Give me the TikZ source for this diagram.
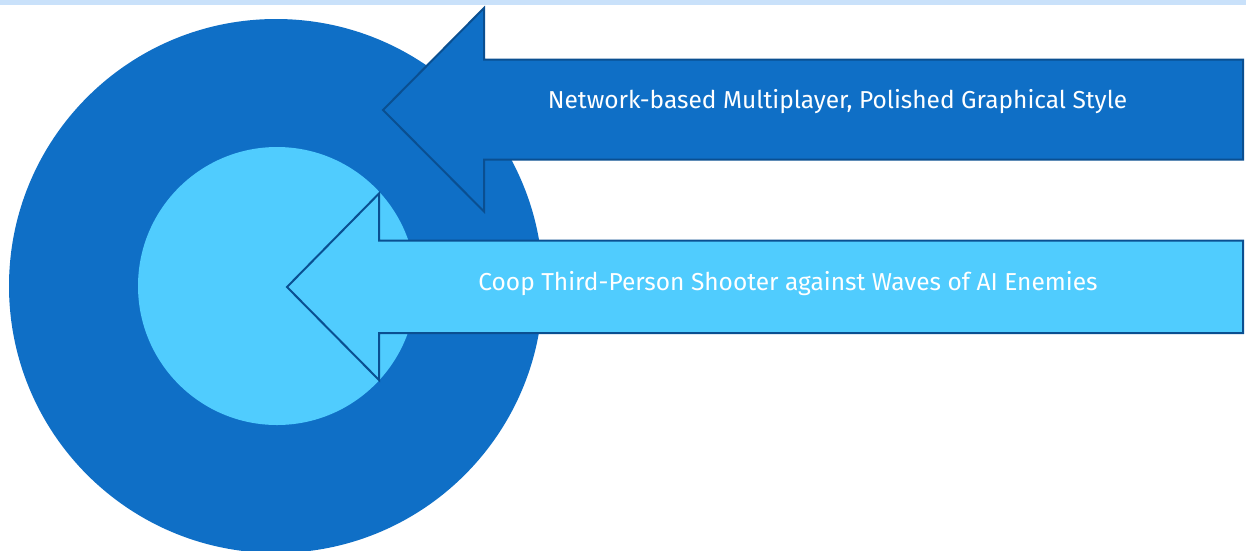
\documentclass[tikz,border=0pt]{standalone}
\usepackage{fontspec}
\setmainfont{Fira Sans}[Ligatures=NoCommon]
\definecolor{darkblue}{HTML}{0F6FC6}
\definecolor{lightblue}{HTML}{50CCFE}
\definecolor{edgeblue}{HTML}{0A4F91}
\definecolor{bandblue}{HTML}{C9E1FA}
\begin{document}
\begin{tikzpicture}[x=1pt,y=-1pt,
  arrowshape/.style={draw=edgeblue,line width=2pt,line join=miter},
  label/.style={text=white,font=\fontsize{24.5}{28}\selectfont,anchor=base,inner sep=0pt}]
\useasboundingbox (0,0) rectangle (1246,550);
\fill[white] (0,0) rectangle (1246,550);
\fill[bandblue] (0,0) rectangle (1246,4.5);
% circles
\fill[darkblue] (276,286) circle (267);
\fill[lightblue] (277,286) circle (139);
% outer arrow
\draw[arrowshape,fill=darkblue] (383,110) -- (484,8) -- (484,59.5) -- (1243,59.5) -- (1243,159.5) -- (484,159.5) -- (484,211.5) -- cycle;
% inner arrow
\draw[arrowshape,fill=lightblue] (287,287) -- (379,193.5) -- (379,240.5) -- (1243,240.5) -- (1243,333) -- (379,333) -- (379,380) -- cycle;
\node[label] (t1) at (837.5,108) {Network-based Multiplayer, Polished Graphical Style};
\node[label] (t2) at (788,290.5) {Coop Third-Person Shooter against Waves of AI Enemies};
\end{tikzpicture}
\end{document}
